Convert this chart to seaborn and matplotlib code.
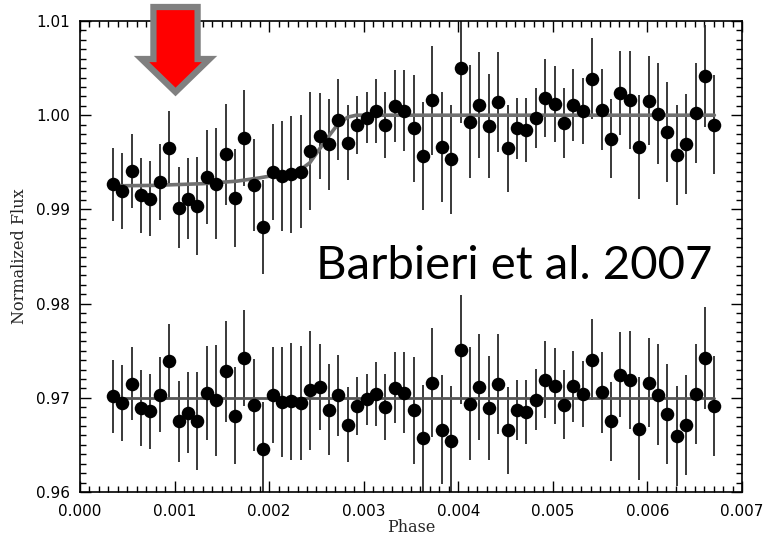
import matplotlib
matplotlib.use("Agg")
import matplotlib.pyplot as plt
import matplotlib.patches as mpatches
from matplotlib.ticker import MultipleLocator
import seaborn as sns
import numpy as np
import pandas as pd

# phase bins (one per binned point)
phase = [0.000346, 0.000445, 0.000545, 0.000644, 0.000744, 0.000843, 0.000942,
         0.001042, 0.001141, 0.001241, 0.001340, 0.001439, 0.001539, 0.001638,
         0.001738, 0.001837, 0.001936, 0.002036, 0.002135, 0.002235, 0.002334,
         0.002433, 0.002533, 0.002632, 0.002732, 0.002831, 0.002930, 0.003030,
         0.003129, 0.003229, 0.003328, 0.003427, 0.003527, 0.003626, 0.003726,
         0.003825, 0.003924, 0.004024, 0.004123, 0.004223, 0.004322, 0.004421,
         0.004521, 0.004620, 0.004720, 0.004819, 0.004918, 0.005018, 0.005117,
         0.005217, 0.005316, 0.005415, 0.005515, 0.005614, 0.005714, 0.005813,
         0.005912, 0.006012, 0.006111, 0.006211, 0.006310, 0.006409, 0.006509,
         0.006608, 0.006708]

# normalized flux, egress light curve
flux = [0.99267, 0.99196, 0.99407, 0.99150, 0.99115, 0.99291, 0.99654, 0.99019,
        0.99115, 0.99037, 0.99344, 0.99273, 0.99584, 0.99125, 0.99760, 0.99259,
        0.98815, 0.99400, 0.99354, 0.99372, 0.99400, 0.99619, 0.99778, 0.99690,
        0.99954, 0.99707, 0.99894, 0.99972, 1.00042, 0.99891, 1.00095, 1.00049,
        0.99859, 0.99566, 1.00159, 0.99661, 0.99531, 1.00501, 0.99929, 1.00106,
        0.99884, 1.00138, 0.99647, 0.99859, 0.99838, 0.99972, 1.00183, 1.00120,
        0.99919, 1.00106, 1.00042, 1.00388, 1.00060, 0.99749, 1.00236, 1.00166,
        0.99665, 1.00155, 1.00018, 0.99820, 0.99577, 0.99696, 1.00025, 1.00413,
        0.99901]

# residuals, offset to 0.97
resid = [0.97016, 0.96945, 0.97150, 0.96892, 0.96857, 0.97034, 0.97389, 0.96751,
         0.96839, 0.96751, 0.97055, 0.96974, 0.97280, 0.96812, 0.97425, 0.96921,
         0.96458, 0.97026, 0.96956, 0.96963, 0.96945, 0.97079, 0.97114, 0.96875,
         0.97026, 0.96716, 0.96910, 0.96984, 0.97044, 0.96903, 0.97108, 0.97055,
         0.96868, 0.96568, 0.97161, 0.96663, 0.96543, 0.97510, 0.96939, 0.97114,
         0.96892, 0.97143, 0.96656, 0.96868, 0.96850, 0.96981, 0.97193, 0.97125,
         0.96928, 0.97122, 0.97044, 0.97404, 0.97061, 0.96751, 0.97246, 0.97185,
         0.96674, 0.97161, 0.97034, 0.96825, 0.96593, 0.96709, 0.97037, 0.97421,
         0.96910]

err = [0.0039, 0.0040, 0.0039, 0.0040, 0.0040, 0.0040, 0.0039, 0.0043, 0.0043,
       0.0052, 0.0050, 0.0059, 0.0054, 0.0052, 0.0051, 0.0049, 0.0050, 0.0051,
       0.0058, 0.0062, 0.0060, 0.0063, 0.0046, 0.0048, 0.0043, 0.0040, 0.0031,
       0.0027, 0.0034, 0.0035, 0.0038, 0.0043, 0.0057, 0.0057, 0.0058, 0.0058,
       0.0058, 0.0058, 0.0060, 0.0056, 0.0055, 0.0053, 0.0046, 0.0032, 0.0034,
       0.0032, 0.0041, 0.0040, 0.0037, 0.0038, 0.0035, 0.0043, 0.0043, 0.0042,
       0.0045, 0.0052, 0.0055, 0.0047, 0.0054, 0.0053, 0.0053, 0.0053, 0.0053,
       0.0054, 0.0053]

# fitted egress model
model_phase = [0.000346, 0.00078, 0.00130, 0.00166, 0.00190, 0.00210, 0.00225,
               0.00235, 0.00243, 0.00253, 0.00263, 0.00273, 0.00283, 0.00292,
               0.006708]
model_flux = [0.99250, 0.99255, 0.99273, 0.99300, 0.99335, 0.99370, 0.99400,
              0.99435, 0.99495, 0.99637, 0.99778, 0.99908, 0.99979, 1.00000,
              1.00000]

resid_line_phase = [0.000346, 0.006708]
resid_line_flux = [0.970, 0.970]

arrow_phase = 0.00101

xticks = [0.000, 0.001, 0.002, 0.003, 0.004, 0.005, 0.006, 0.007]
yticks = [0.96, 0.97, 0.98, 0.99, 1.00, 1.01]

sns.set_theme(style="ticks")
plt.rcParams['font.family'] = ['DejaVu Sans']

df = pd.DataFrame({'phase': phase, 'flux': flux, 'resid': resid, 'err': err})
model_df = pd.DataFrame({'phase': model_phase, 'flux': model_flux})

fig = plt.figure(figsize=(7.67, 5.38), dpi=100)
ax = fig.add_axes([80/767, 46/538, 662/767, 471/538])

# error bars
for col in ['flux', 'resid']:
    ax.errorbar(df['phase'], df[col], yerr=df['err'], fmt='none',
                ecolor='#2a2a2a', elinewidth=1.3, capsize=0, zorder=2)

# model curve and residual reference line
sns.lineplot(data=model_df, x='phase', y='flux', color='#707070', lw=2.6,
             ax=ax, zorder=3, sort=True)
sns.lineplot(x=resid_line_phase, y=resid_line_flux, color='#555555', lw=2.0,
             ax=ax, zorder=3)

# binned points
sns.scatterplot(data=df, x='phase', y='flux', color='black', s=95,
                edgecolor='black', linewidth=0, ax=ax, zorder=4)
sns.scatterplot(data=df, x='phase', y='resid', color='black', s=95,
                edgecolor='black', linewidth=0, ax=ax, zorder=4)

ax.set_xlim(0.0, 0.007)
ax.set_ylim(0.96, 1.01)
ax.set_xticks(xticks)
ax.set_xticklabels([f'{t:.3f}' for t in xticks])
ax.set_yticks(yticks)
ax.set_yticklabels([f'{t:.2f}' for t in yticks])
ax.xaxis.set_minor_locator(MultipleLocator(0.0001))
ax.yaxis.set_minor_locator(MultipleLocator(0.001))
ax.tick_params(which='both', direction='in', top=True, right=True,
               colors='black', labelsize=11, width=1)
ax.tick_params(which='major', length=8, pad=7)
ax.tick_params(axis='x', which='major', pad=9)
ax.tick_params(which='minor', length=4)
for sp in ax.spines.values():
    sp.set_color('black')
    sp.set_linewidth(1.2)

ax.set_xlabel('Phase', family='DejaVu Serif', fontsize=11.5, labelpad=0)
ax.set_ylabel('Normalized Flux', family='DejaVu Serif', fontsize=11.5, labelpad=6)

# annotation text
ax.text(0.956, 0.452, 'Barbieri et al. 2007', transform=ax.transAxes,
        ha='right', va='baseline', fontsize=34, family='Lato', color='black',
        zorder=6)

# red arrow pointing down at the egress start
x0 = ax.transData.transform((arrow_phase, 1.0))[0]
fx = x0 / 767
arrow = mpatches.FancyArrow(fx, 531/538, 0, -(531 - 446)/538,
                            width=31/538, head_width=68/767, head_length=33/538,
                            length_includes_head=True,
                            transform=fig.transFigure, facecolor='#ff0000',
                            edgecolor='#808080', linewidth=4.5, zorder=10,
                            clip_on=False)
fig.patches.append(arrow)

fig.savefig('out.png', dpi=100)
